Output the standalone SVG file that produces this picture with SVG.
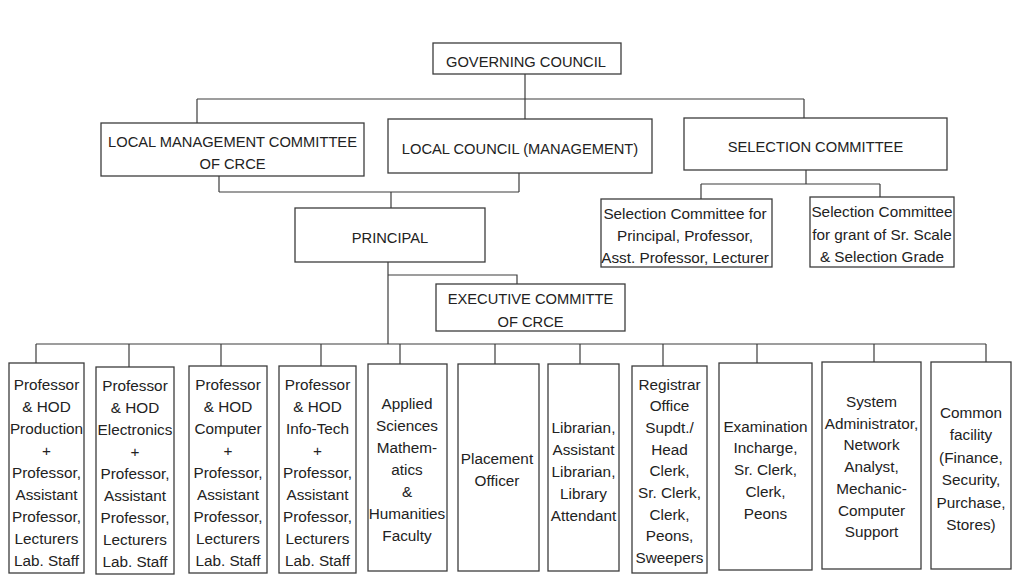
<svg xmlns="http://www.w3.org/2000/svg" width="1024" height="588" viewBox="0 0 1024 588">
<style>
.bx{fill:#fff;stroke:#3c3c3c;stroke-width:1.3}
.cn{fill:none;stroke:#3c3c3c;stroke-width:1.2}
.t{font-family:"Liberation Sans",Arial,sans-serif;font-size:14.7px;fill:#222;text-anchor:middle}
.s{font-family:"Liberation Sans",Arial,sans-serif;font-size:15.3px;fill:#222;text-anchor:middle}
</style>
<rect width="1024" height="588" fill="#fff"/>
<g id="connectors">
<path class="cn" d="M525,74V99M197,99H804M197,99V123M525,99V119M804,99V118"/>
<path class="cn" d="M219,176V192M519,173V192M219,192H519M391,192V208"/>
<path class="cn" d="M388,262V344M388,275H517V284"/>
<path class="cn" d="M36,344H986M36,344V363M129,344V367M221,344V366M321,344V366M400,344V364M495,344V364M580,344V364M663,344V366M757,344V363M874,344V362M986,344V362"/>
<path class="cn" d="M806,170V184M701,184H880M701,184V199M880,184V197"/>
</g>
<g id="governing-council"><rect class="bx" x="433" y="43" width="188" height="31"/><text class="t" x="526" y="67">GOVERNING COUNCIL</text></g>
<g id="local-management-committee"><rect class="bx" x="101" y="123" width="263" height="53"/><text class="t" x="232.5" y="146.5">LOCAL MANAGEMENT COMMITTEE</text><text class="t" x="232.5" y="168.5">OF CRCE</text></g>
<g id="local-council"><rect class="bx" x="388" y="119" width="264" height="54"/><text class="t" x="520" y="153.5">LOCAL COUNCIL (MANAGEMENT)</text></g>
<g id="selection-committee"><rect class="bx" x="684" y="118" width="263" height="52"/><text class="t" x="815.5" y="152">SELECTION COMMITTEE</text></g>
<g id="principal"><rect class="bx" x="295" y="208" width="190" height="54"/><text class="t" x="390" y="242.5">PRINCIPAL</text></g>
<g id="executive-committee"><rect class="bx" x="436" y="284" width="189" height="47"/><text class="t" x="530.5" y="303.5">EXECUTIVE COMMITTE</text><text class="t" x="530.5" y="327">OF CRCE</text></g>
<g id="sel-sub-1"><rect class="bx" x="601" y="199" width="171" height="68"/><text class="s" x="685" y="218.5">Selection Committee for</text><text class="s" x="685" y="240.5">Principal, Professor,</text><text class="s" x="685" y="262.5">Asst. Professor, Lecturer</text></g>
<g id="sel-sub-2"><rect class="bx" x="810" y="197" width="144" height="70"/><text class="s" x="882" y="217">Selection Committee</text><text class="s" x="882" y="240">for grant of Sr. Scale</text><text class="s" x="882" y="262">&amp; Selection Grade</text></g>
<g id="dept-production"><rect class="bx" x="9" y="363" width="75" height="210"/>
<text class="s" x="46.5" y="390">Professor</text><text class="s" x="46.5" y="412">&amp; HOD</text><text class="s" x="46.5" y="434">Production</text><text class="s" x="46.5" y="456">+</text><text class="s" x="46.5" y="478">Professor,</text><text class="s" x="46.5" y="500">Assistant</text><text class="s" x="46.5" y="522">Professor,</text><text class="s" x="46.5" y="544">Lecturers</text><text class="s" x="46.5" y="566">Lab. Staff</text></g>
<g id="dept-electronics"><rect class="bx" x="96" y="367" width="78" height="207"/>
<text class="s" x="135" y="391">Professor</text><text class="s" x="135" y="413">&amp; HOD</text><text class="s" x="135" y="435">Electronics</text><text class="s" x="135" y="457">+</text><text class="s" x="135" y="479">Professor,</text><text class="s" x="135" y="501">Assistant</text><text class="s" x="135" y="523">Professor,</text><text class="s" x="135" y="545">Lecturers</text><text class="s" x="135" y="567">Lab. Staff</text></g>
<g id="dept-computer"><rect class="bx" x="189" y="366" width="78" height="207"/>
<text class="s" x="228" y="390">Professor</text><text class="s" x="228" y="412">&amp; HOD</text><text class="s" x="228" y="434">Computer</text><text class="s" x="228" y="456">+</text><text class="s" x="228" y="478">Professor,</text><text class="s" x="228" y="500">Assistant</text><text class="s" x="228" y="522">Professor,</text><text class="s" x="228" y="544">Lecturers</text><text class="s" x="228" y="566">Lab. Staff</text></g>
<g id="dept-infotech"><rect class="bx" x="279" y="366" width="77" height="207"/>
<text class="s" x="317.5" y="390">Professor</text><text class="s" x="317.5" y="412">&amp; HOD</text><text class="s" x="317.5" y="434">Info-Tech</text><text class="s" x="317.5" y="456">+</text><text class="s" x="317.5" y="478">Professor,</text><text class="s" x="317.5" y="500">Assistant</text><text class="s" x="317.5" y="522">Professor,</text><text class="s" x="317.5" y="544">Lecturers</text><text class="s" x="317.5" y="566">Lab. Staff</text></g>
<g id="applied-sciences"><rect class="bx" x="368" y="364" width="79" height="207"/>
<text class="s" x="407" y="408.5">Applied</text><text class="s" x="407" y="430.5">Sciences</text><text class="s" x="407" y="452.5">Mathem-</text><text class="s" x="407" y="474.5">atics</text><text class="s" x="407" y="496.5">&amp;</text><text class="s" x="407" y="518.5">Humanities</text><text class="s" x="407" y="540.5">Faculty</text></g>
<g id="placement"><rect class="bx" x="458" y="364" width="81" height="207"/>
<text class="s" x="497" y="463.5">Placement</text><text class="s" x="497" y="485.5">Officer</text></g>
<g id="library"><rect class="bx" x="548" y="364" width="71" height="207"/>
<text class="s" x="583.5" y="432.5">Librarian,</text><text class="s" x="583.5" y="454.5">Assistant</text><text class="s" x="583.5" y="476.5">Librarian,</text><text class="s" x="583.5" y="498.5">Library</text><text class="s" x="583.5" y="520.5">Attendant</text></g>
<g id="registrar"><rect class="bx" x="632" y="366" width="75" height="207"/>
<text class="s" x="669.5" y="389.5">Registrar</text><text class="s" x="669.5" y="411.2">Office</text><text class="s" x="669.5" y="432.9">Supdt./</text><text class="s" x="669.5" y="454.6">Head</text><text class="s" x="669.5" y="476.3">Clerk,</text><text class="s" x="669.5" y="498">Sr. Clerk,</text><text class="s" x="669.5" y="519.7">Clerk,</text><text class="s" x="669.5" y="541.4">Peons,</text><text class="s" x="669.5" y="563.1">Sweepers</text></g>
<g id="examination"><rect class="bx" x="719" y="363" width="93" height="207"/>
<text class="s" x="765.5" y="431.7">Examination</text><text class="s" x="765.5" y="453.4">Incharge,</text><text class="s" x="765.5" y="475.1">Sr. Clerk,</text><text class="s" x="765.5" y="496.8">Clerk,</text><text class="s" x="765.5" y="518.5">Peons</text></g>
<g id="system-admin"><rect class="bx" x="822" y="362" width="99" height="207"/>
<text class="s" x="871.5" y="407">System</text><text class="s" x="871.5" y="428.7">Administrator,</text><text class="s" x="871.5" y="450.4">Network</text><text class="s" x="871.5" y="472.1">Analyst,</text><text class="s" x="871.5" y="493.8">Mechanic-</text><text class="s" x="871.5" y="515.5">Computer</text><text class="s" x="871.5" y="537.2">Support</text></g>
<g id="common-facility"><rect class="bx" x="931" y="362" width="80" height="207"/>
<text class="s" x="971" y="417.5">Common</text><text class="s" x="971" y="440">facility</text><text class="s" x="971" y="462.5">(Finance,</text><text class="s" x="971" y="485">Security,</text><text class="s" x="971" y="507.5">Purchase,</text><text class="s" x="971" y="530">Stores)</text></g>
</svg>
